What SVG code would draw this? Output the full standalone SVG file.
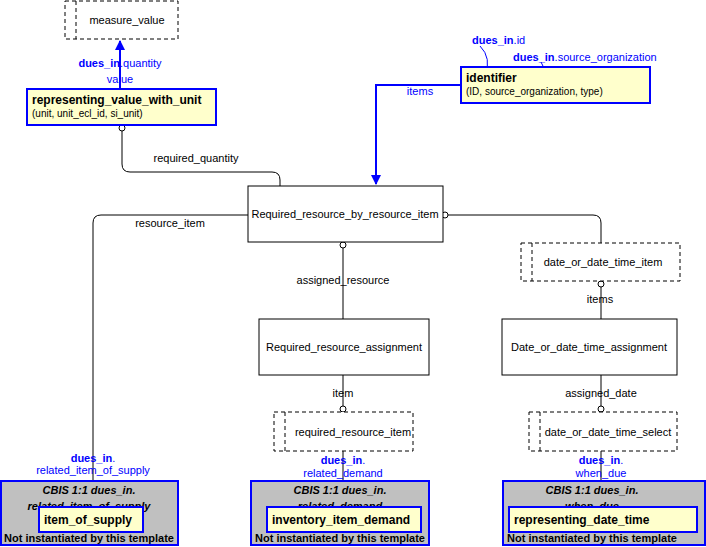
<svg xmlns="http://www.w3.org/2000/svg" width="706" height="547" viewBox="0 0 706 547">
<style>
text{font-family:"Liberation Sans",Arial,sans-serif;font-size:11px;fill:#000}
.c{text-anchor:middle}
.b{fill:#0000ff}
.bb{fill:#0000ff;font-weight:bold}
.box{fill:#fff;stroke:#000;stroke-width:1}
.sel{fill:#fff;stroke:#000;stroke-dasharray:4,3}
.y{fill:#ffffcc;stroke:#0000ff;stroke-width:2}
.g{fill:#c0c0c0;stroke:#0000ff;stroke-width:2}
.ln{fill:none;stroke:#000;stroke-width:1}
.bl{fill:none;stroke:#0000ff;stroke-width:2}
.o{fill:#fff;stroke:#000}
.bi{font-weight:bold;font-style:italic}
.bo{font-weight:bold}
</style>
<defs>
<marker id="ah" viewBox="0 0 10 10" refX="9" refY="5" markerWidth="5" markerHeight="5" orient="auto"><path d="M0,0L10,5L0,10z" fill="#0000ff"/></marker>
<marker id="sa" viewBox="0 0 10 10" refX="9" refY="5" markerWidth="6" markerHeight="6" orient="auto"><path d="M0,1L9,5L0,9" fill="none" stroke="#0000ff"/></marker>
</defs>
<g id="connectors">
<path class="bl" d="M120,89V41" marker-end="url(#ah)"/>
<path class="bl" d="M461,85H376V184" marker-end="url(#ah)"/>
<path class="ln" d="M122,131V164Q122,172 130,172H272Q280,172 280,180V186"/>
<path class="ln" d="M248,215H101Q93,215 93,223V502"/>
<path class="ln" d="M448,215H593Q601,215 601,223V243"/>
<path class="ln" d="M601,287V319"/>
<path class="ln" d="M601,375V406"/>
<path class="ln" d="M601,451V502"/>
<path class="ln" d="M343,248V319"/>
<path class="ln" d="M343,375V406"/>
<path class="ln" d="M343,451V502"/>
<circle class="o" cx="122" cy="128" r="3"/>
<circle class="o" cx="445" cy="215" r="3"/>
<circle class="o" cx="343" cy="245" r="3"/>
<circle class="o" cx="601" cy="284" r="3"/>
<circle class="o" cx="601" cy="409" r="3"/>
<circle class="o" cx="343" cy="409" r="3"/>
<circle class="o" cx="93" cy="505" r="3"/>
<circle class="o" cx="343" cy="505" r="3"/>
<circle class="o" cx="601" cy="505" r="3"/>
<path d="M480,46Q492,58 485,76" fill="none" stroke="#0000ff" marker-end="url(#sa)"/>
<path d="M541,62Q548,72 537,80" fill="none" stroke="#0000ff" marker-end="url(#sa)"/>
<text x="120" y="67" class="c b"><tspan class="bb">dues_in</tspan>.quantity</text>
<text x="120" y="83" class="c b">value</text>
<text x="472" y="44" class="b"><tspan class="bb">dues_in</tspan>.id</text>
<text x="513" y="61" class="b"><tspan class="bb">dues_in</tspan>.source_organization</text>
<text x="420" y="95" class="c b">items</text>
<text x="196" y="162" class="c">required_quantity</text>
<text x="170" y="227" class="c">resource_item</text>
<text x="343" y="284" class="c">assigned_resource</text>
<text x="600" y="303" class="c">items</text>
<text x="343" y="397" class="c">item</text>
<text x="601" y="397" class="c">assigned_date</text>
</g>
<g id="measure_value"><rect class="sel" x="65" y="1" width="113" height="38"/><line class="sel" x1="76" y1="1" x2="76" y2="39"/><text x="127" y="24" class="c">measure_value</text></g>
<g id="representing_value_with_unit"><rect class="y" x="27" y="89" width="189" height="36"/><text x="32" y="104" class="bo" style="font-size:12px">representing_value_with_unit</text><text x="32" y="117" style="font-size:10px">(unit, unit_ecl_id, si_unit)</text></g>
<g id="identifier"><rect class="y" x="461" y="67" width="189" height="36"/><text x="466" y="82" class="bo" style="font-size:12px">identifier</text><text x="466" y="95" style="font-size:10px">(ID, source_organization, type)</text></g>
<g id="Required_resource_by_resource_item"><rect class="box" x="248" y="186" width="195" height="56"/><text x="345" y="218" class="c">Required_resource_by_resource_item</text></g>
<g id="date_or_date_time_item"><rect class="sel" x="521" y="243" width="159" height="38"/><line class="sel" x1="532" y1="243" x2="532" y2="281"/><text x="603" y="266" class="c">date_or_date_time_item</text></g>
<g id="Required_resource_assignment"><rect class="box" x="259" y="319" width="170" height="56"/><text x="344" y="351" class="c">Required_resource_assignment</text></g>
<g id="Date_or_date_time_assignment"><rect class="box" x="502" y="319" width="175" height="56"/><text x="589" y="351" class="c">Date_or_date_time_assignment</text></g>
<g id="required_resource_item"><rect class="sel" x="274" y="412" width="139" height="39"/><line class="sel" x1="285" y1="412" x2="285" y2="451"/><text x="353" y="436" class="c">required_resource_item</text></g>
<g id="date_or_date_time_select"><rect class="sel" x="529" y="412" width="148" height="39"/><line class="sel" x1="540" y1="412" x2="540" y2="451"/><text x="608" y="436" class="c">date_or_date_time_select</text></g>
<g id="item_of_supply">
<text x="93" y="462" class="c b"><tspan class="bb">dues_in</tspan>.</text><text x="93" y="474" class="c b">related_item_of_supply</text>
<rect class="g" x="1" y="481" width="177" height="64"/>
<text x="89" y="494" class="c bi">CBIS 1:1 dues_in.</text><text x="89" y="510" class="c bi">related_item_of_supply</text>
<rect class="y" x="39" y="507" width="104" height="25"/><text x="44" y="524" class="bo" style="font-size:12px">item_of_supply</text>
<text x="89" y="542" class="c bo">Not instantiated by this template</text></g>
<g id="inventory_item_demand">
<text x="343" y="464" class="c b"><tspan class="bb">dues_in</tspan>.</text><text x="343" y="477" class="c b">related_demand</text>
<rect class="g" x="251" y="481" width="178" height="64"/>
<text x="340" y="494" class="c bi">CBIS 1:1 dues_in.</text><text x="340" y="510" class="c bi">related_demand</text>
<rect class="y" x="267" y="507" width="154" height="25"/><text x="272" y="524" class="bo" style="font-size:12px">inventory_item_demand</text>
<text x="340" y="542" class="c bo">Not instantiated by this template</text></g>
<g id="representing_date_time">
<text x="601" y="464" class="c b"><tspan class="bb">dues_in</tspan>.</text><text x="601" y="477" class="c b">when_due</text>
<rect class="g" x="503" y="481" width="202" height="64"/>
<text x="592" y="494" class="c bi">CBIS 1:1 dues_in.</text><text x="592" y="510" class="c bi">when_due</text>
<rect class="y" x="509" y="507" width="188" height="25"/><text x="514" y="524" class="bo" style="font-size:12px">representing_date_time</text>
<text x="592" y="542" class="c bo">Not instantiated by this template</text></g>
</svg>
